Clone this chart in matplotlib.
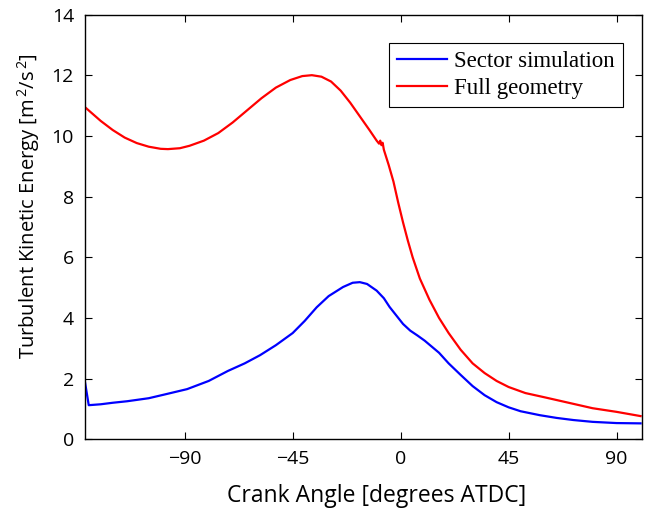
import matplotlib
matplotlib.use("Agg")
import matplotlib.pyplot as plt

plt.rcParams["mathtext.fontset"] = "custom"
plt.rcParams["mathtext.rm"] = "Open Sans"
plt.rcParams["mathtext.it"] = "Open Sans:italic"

# Crank angle [deg ATDC] and turbulent kinetic energy [m^2/s^2]
sector_angle = [-131.5, -130, -125, -120, -114, -105, -98, -89, -80, -72, -65, -58.6,
                -52, -45, -40, -35, -30, -24, -20, -17, -14, -10, -7, -4.6, -2, 1, 4,
                7, 10, 13, 16, 20, 25, 30, 35, 40, 45, 50, 58, 65, 72, 80, 90, 100]
sector_tke = [1.85, 1.12, 1.15, 1.2, 1.25, 1.35, 1.48, 1.65, 1.92, 2.25, 2.5, 2.77,
              3.1, 3.5, 3.9, 4.35, 4.72, 5.02, 5.16, 5.18, 5.12, 4.9, 4.65, 4.36, 4.1,
              3.8, 3.58, 3.42, 3.25, 3.05, 2.85, 2.5, 2.12, 1.75, 1.45, 1.22, 1.05,
              0.92, 0.79, 0.7, 0.63, 0.57, 0.53, 0.52]

full_angle = [-131.5, -125, -120, -115, -110, -105, -100, -97, -92, -88, -82, -76, -70,
              -64, -58, -52, -46, -41, -37, -33, -29, -25, -21, -17, -13, -10, -9,
              -8.5, -8, -7.5, -7, -5, -3, -1, 1, 3, 5, 8, 12, 16, 20, 25, 30, 35, 40,
              45, 52, 60, 70, 80, 90, 100]
full_tke = [10.95, 10.5, 10.2, 9.95, 9.77, 9.65, 9.58, 9.57, 9.6, 9.68, 9.85, 10.1,
            10.45, 10.85, 11.25, 11.6, 11.85, 11.98, 12.01, 11.96, 11.8, 11.5, 11.1,
            10.65, 10.2, 9.85, 9.75, 9.85, 9.7, 9.78, 9.55, 9.05, 8.5, 7.8, 7.15, 6.55,
            6.0, 5.3, 4.6, 4.0, 3.5, 2.95, 2.5, 2.18, 1.92, 1.72, 1.52, 1.38, 1.2,
            1.02, 0.9, 0.76]

x_ticks = [-90, -45, 0, 45, 90]
y_ticks = [0, 2, 4, 6, 8, 10, 12, 14]

fig = plt.figure(figsize=(6.45, 5.13), dpi=100)
ax = fig.add_axes([0.132, 0.144, 0.863, 0.827])

ax.plot(sector_angle, sector_tke, color="#0000ff", lw=1.6, label="Sector simulation")
ax.plot(full_angle, full_tke, color="#ff0000", lw=1.6, label="Full geometry")

ax.set_xlim(-131.5, 100.5)
ax.set_ylim(0, 14)
ax.set_xticks(x_ticks)
ax.set_yticks(y_ticks)
ax.tick_params(direction="in", top=True, right=True, length=5, width=0.8,
               labelsize=14, pad=8)
for lab in ax.get_xticklabels() + ax.get_yticklabels():
    lab.set_family("Open Sans")
for s in ax.spines.values():
    s.set_linewidth(1.0)

ax.set_xlabel("Crank Angle [degrees ATDC]", family="Open Sans", fontsize=16.5)
ax.set_ylabel(r"Turbulent Kinetic Energy [m$^{\,2}$/s$^{\,2}$]", family="Open Sans",
              fontsize=14.5)
ax.xaxis.set_label_coords(0.523, -0.105)
ax.yaxis.set_label_coords(-0.077, 0.55)

leg = ax.legend(loc="upper right", bbox_to_anchor=(0.966, 0.934),
                prop={"family": "Liberation Serif", "size": 16.5},
                frameon=True, fancybox=False, edgecolor="black", framealpha=1,
                handlelength=2.2, borderpad=0.35, labelspacing=0.25, handletextpad=0.3,
                borderaxespad=0)
leg.get_frame().set_linewidth(0.8)

fig.savefig("out.png", dpi=100)
